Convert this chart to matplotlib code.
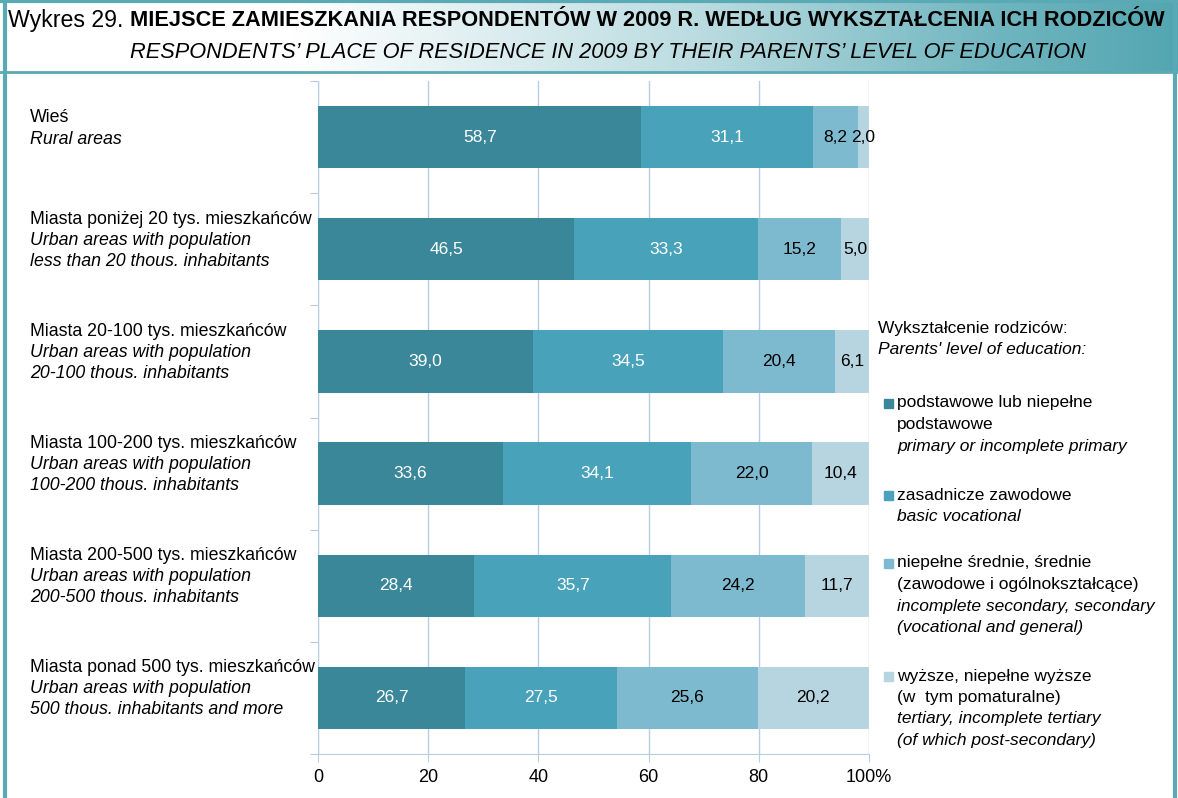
import numpy as np
import matplotlib
matplotlib.use("Agg")
from matplotlib import pyplot as plt
from matplotlib.colors import LinearSegmentedColormap
from matplotlib.patches import Rectangle

plt.rcParams['font.family'] = ['Liberation Sans', 'DejaVu Sans']

kategorie_pl = ['Wieś',
                'Miasta poniżej 20 tys. mieszkańców',
                'Miasta 20-100 tys. mieszkańców',
                'Miasta 100-200 tys. mieszkańców',
                'Miasta 200-500 tys. mieszkańców',
                'Miasta ponad 500 tys. mieszkańców']
kategorie_en = ['Rural areas',
                'Urban areas with population\nless than 20 thous. inhabitants',
                'Urban areas with population\n20-100 thous. inhabitants',
                'Urban areas with population\n100-200 thous. inhabitants',
                'Urban areas with population\n200-500 thous. inhabitants',
                'Urban areas with population\n500 thous. inhabitants and more']

podstawowe = [58.7, 46.5, 39.0, 33.6, 28.4, 26.7]
zasadnicze = [31.1, 33.3, 34.5, 34.1, 35.7, 27.5]
srednie = [8.2, 15.2, 20.4, 22.0, 24.2, 25.6]
wyzsze = [2.0, 5.0, 6.1, 10.4, 11.7, 20.2]

serie = [podstawowe, zasadnicze, srednie, wyzsze]
kolory = ['#3A8799', '#48A2BA', '#7DBAD0', '#B6D5E0']
kolory_tekstu = ['white', 'white', 'black', 'black']

legenda_pl = ['podstawowe lub niepełne\npodstawowe',
              'zasadnicze zawodowe',
              'niepełne średnie, średnie\n(zawodowe i ogólnokształcące)',
              'wyższe, niepełne wyższe\n(w  tym pomaturalne)']
legenda_en = ['primary or incomplete primary',
              'basic vocational',
              'incomplete secondary, secondary\n(vocational and general)',
              'tertiary, incomplete tertiary\n(of which post-secondary)']

W, H = 1178, 798
fig = plt.figure(figsize=(W / 100, H / 100), dpi=100)
renderer = fig.canvas.get_renderer()

def fx(x):
    return x / W

def fy(y):
    return 1 - y / H

def dopasuj(t, szer):
    # dobiera rozmiar czcionki tak, aby tekst mial zadana szerokosc w px
    w = t.get_window_extent(renderer).width
    t.set_fontsize(t.get_fontsize() * szer / w)

# pasek tytulu z gradientem
ax_t = fig.add_axes([0, fy(72), 1, 72 / H])
cmap = LinearSegmentedColormap.from_list('tlo', [(0, '#FFFFFF'), (0.25, '#FFFFFF'),
                                                 (0.6, '#B9DBE0'), (0.85, '#6FB5BF'),
                                                 (1, '#53A6B1')])
grad = np.linspace(0, 1, 512).reshape(1, -1)
ax_t.imshow(grad, aspect='auto', cmap=cmap, extent=[0, 1, 0, 1])
ax_t.set_xlim(0, 1)
ax_t.set_ylim(0, 1)
ax_t.axis('off')

t1 = fig.text(fx(8), fy(20), 'Wykres 29.', fontsize=16, va='center', ha='left')
dopasuj(t1, 115)
t2 = fig.text(fx(130), fy(20), 'MIEJSCE ZAMIESZKANIA RESPONDENTÓW W 2009 R. WEDŁUG WYKSZTAŁCENIA ICH RODZICÓW',
              fontsize=16, fontweight='bold', va='center', ha='left')
dopasuj(t2, 1038)
t3 = fig.text(fx(130), fy(52), 'RESPONDENTS\u2019 PLACE OF RESIDENCE IN 2009 BY THEIR PARENTS\u2019 LEVEL OF EDUCATION',
              fontsize=16, style='italic', va='center', ha='left')
dopasuj(t3, 958)

# ramka
fig.add_artist(plt.Line2D([fx(5), fx(5)], [0, 1], color='#5AAAB6', lw=3))
fig.add_artist(plt.Line2D([fx(1175), fx(1175)], [0, 1], color='#5AAAB6', lw=3))
fig.add_artist(plt.Line2D([0, 1], [fy(1), fy(1)], color='#5AAAB6', lw=3))
fig.add_artist(plt.Line2D([0, 1], [fy(72), fy(72)], color='#5AAAB6', lw=2))

# wykres
ax = fig.add_axes([fx(318), fy(754), 551 / W, 673 / H])
y = np.arange(len(podstawowe))
lewo = np.zeros(len(podstawowe))
for s, kolor, kt in zip(serie, kolory, kolory_tekstu):
    s = np.array(s)
    ax.barh(y, s, left=lewo, height=0.555, color=kolor, zorder=3)
    for i in range(len(s)):
        ax.text(lewo[i] + s[i] / 2, y[i], f'{s[i]:.1f}'.replace('.', ','),
                ha='center', va='center', fontsize=12.5, color=kt, zorder=4)
    lewo += s

ax.set_xlim(0, 100)
ax.set_ylim(len(podstawowe) - 0.5, -0.5)
ax.set_xticks([0, 20, 40, 60, 80, 100])
ax.set_xticklabels(['0', '20', '40', '60', '80', '100%'], fontsize=13)
ax.set_yticks(np.arange(-0.5, len(podstawowe), 1))
ax.set_yticklabels([])
ax.grid(axis='x', color='#B8CCE4', lw=1, zorder=0)
for sp in ['top', 'right']:
    ax.spines[sp].set_visible(False)
for sp in ['left', 'bottom']:
    ax.spines[sp].set_color('#B8CCE4')
ax.tick_params(axis='both', color='#B8CCE4', length=6)
ax.tick_params(axis='x', pad=5)

# etykiety kategorii
for i in range(len(kategorie_pl)):
    yc = 137 + 112 * i
    n_en = kategorie_en[i].count('\n') + 1
    top = yc - 10.5 * (n_en + 1) + 2
    fig.text(fx(30), fy(top), kategorie_pl[i], fontsize=12.8, va='center', ha='left')
    for j, linia in enumerate(kategorie_en[i].split('\n')):
        fig.text(fx(30), fy(top + 21 * (j + 1)), linia, fontsize=12.8,
                 style='italic', va='center', ha='left')

# legenda
fig.text(fx(878), fy(328), 'Wykształcenie rodziców:', fontsize=12.5, va='center', ha='left')
fig.text(fx(878), fy(350), "Parents' level of education:", fontsize=12.5,
         style='italic', va='center', ha='left')
pozycje = [403, 495, 563, 676]
for k in range(4):
    y0 = pozycje[k]
    fig.add_artist(Rectangle((fx(884), fy(y0 + 5)), 9 / W, 9 / H, color=kolory[k],
                             transform=fig.transFigure))
    linie = legenda_pl[k].split('\n')
    for j, linia in enumerate(linie):
        fig.text(fx(897), fy(y0 + 21.5 * j), linia, fontsize=12.5, va='center', ha='left')
    for j, linia in enumerate(legenda_en[k].split('\n')):
        fig.text(fx(897), fy(y0 + 21.5 * (len(linie) + j)), linia, fontsize=12.5,
                 style='italic', va='center', ha='left')

fig.savefig('out.png', dpi=100)
